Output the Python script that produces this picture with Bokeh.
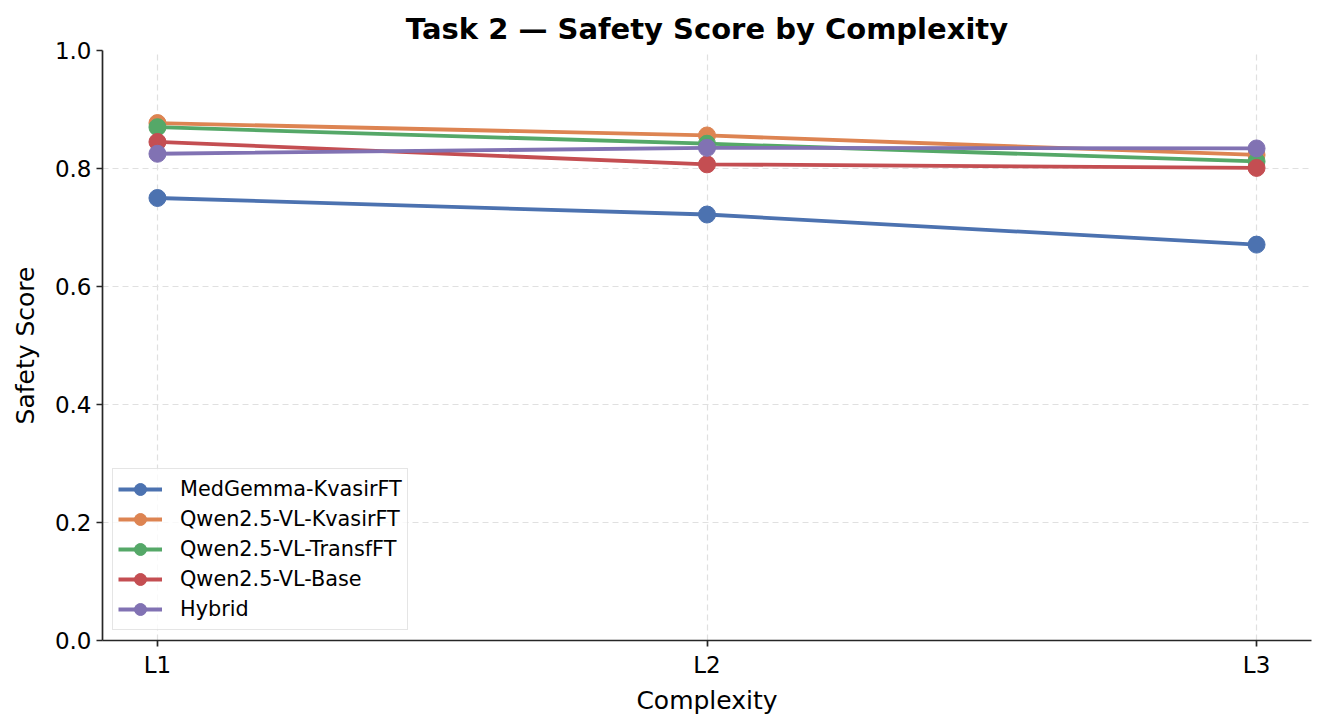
from bokeh.plotting import figure
from bokeh.embed import file_html
from bokeh.resources import INLINE
from bokeh.models import Range1d, FixedTicker, NumeralTickFormatter, Legend, LegendItem

levels = ["L1", "L2", "L3"]
models = ["MedGemma-KvasirFT", "Qwen2.5-VL-KvasirFT", "Qwen2.5-VL-TransfFT", "Qwen2.5-VL-Base", "Hybrid"]
medgemma_kvasirft = [0.750, 0.722, 0.671]
qwen_kvasirft = [0.877, 0.856, 0.823]
qwen_transfft = [0.870, 0.842, 0.812]
qwen_base = [0.845, 0.807, 0.801]
hybrid = [0.825, 0.835, 0.834]
series = [medgemma_kvasirft, qwen_kvasirft, qwen_transfft, qwen_base, hybrid]
colors = ["#4C72B0", "#DD8452", "#55A868", "#C44E52", "#8172B3"]

xs = list(range(len(levels)))

p = figure(width=1318, height=718, output_backend="svg", toolbar_location=None,
           x_range=Range1d(-0.1, 2.1), y_range=Range1d(0, 1.0),
           min_border_left=102, min_border_right=7, min_border_top=50, min_border_bottom=78)

p.title.text = "Task 2 \u2014 Safety Score by Complexity"
p.title.align = "center"
p.title.text_font = "DejaVu Sans"
p.title.text_font_size = "29px"
p.title.text_font_style = "bold"
p.title.text_color = "#000000"

items = []
for name, vals, c in zip(models, series, colors):
    r1 = p.line(xs, vals, line_color=c, line_width=3.8)
    r2 = p.scatter(xs, vals, size=17, fill_color=c, line_color=c, marker="circle")
    items.append(LegendItem(label=name, renderers=[r1, r2]))

legend = Legend(items=items, location="bottom_left")
legend.label_text_font = "DejaVu Sans"
legend.label_text_font_size = "20.8px"
legend.label_text_color = "#000000"
legend.border_line_color = "#cccccc"
legend.border_line_width = 1.3
legend.background_fill_alpha = 0.8
legend.glyph_width = 44
legend.glyph_height = 30
legend.label_height = 20
legend.label_standoff = 18
legend.spacing = 0
legend.padding = 5
legend.margin = 10
p.add_layout(legend)

p.xaxis.ticker = FixedTicker(ticks=xs)
p.xaxis.major_label_overrides = {i: l for i, l in enumerate(levels)}
p.yaxis.ticker = FixedTicker(ticks=[0, 0.2, 0.4, 0.6, 0.8, 1.0])
p.yaxis.formatter = NumeralTickFormatter(format="0.0")

for ax in (p.xaxis, p.yaxis):
    ax.axis_line_color = "#262626"
    ax.axis_line_width = 1.7
    ax.major_tick_line_color = "#262626"
    ax.major_tick_line_width = 1.7
    ax.major_tick_out = 6
    ax.major_tick_in = 0
    ax.minor_tick_line_color = None
    ax.major_label_text_font = "DejaVu Sans"
    ax.major_label_text_font_size = "23px"
    ax.major_label_text_color = "#000000"
    ax.axis_label_text_font = "DejaVu Sans"
    ax.axis_label_text_font_size = "25px"
    ax.axis_label_text_font_style = "normal"
    ax.axis_label_text_color = "#000000"

p.xaxis.axis_label = "Complexity"
p.yaxis.axis_label = "Safety Score"
p.yaxis.axis_label_standoff = 12

p.grid.grid_line_color = "#e0e0e0"
p.grid.grid_line_dash = "6 4"
p.grid.grid_line_width = 1.2
p.outline_line_color = None

open("out.html", "w").write(file_html(p, INLINE))
